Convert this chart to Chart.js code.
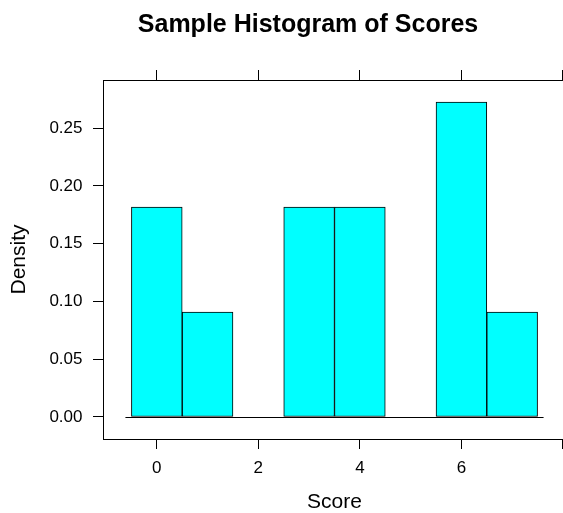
<!DOCTYPE html>
<html>
<head>
<meta charset="utf-8">
<script src="https://cdn.jsdelivr.net/npm/chart.js@4"></script>
<style>
  html, body { margin: 0; padding: 0; background: #fff; overflow: hidden; }
  #clip { width: 563px; height: 513px; overflow: hidden; position: relative; }
  #wrap { width: 566px; height: 513px; position: absolute; left: 0; top: 0; }
</style>
</head>
<body>
<div id="clip"><div id="wrap"><canvas id="c"></canvas></div></div>
<script>
// ---- data ----
const titleText = "Sample Histogram of Scores";
const xLabel = "Score";
const yLabel = "Density";
const scoreBins = [0, 1, 2, 3, 4, 5, 6, 7];          // bin centres (width 1)
const densities = [0.1818, 0.0909, 0, 0.1818, 0.1818, 0, 0.2727, 0.0909];
const xTicks = [0, 2, 4, 6, 8];
const xTickLabels = ["0", "2", "4", "6", ""];
const yTicks = [0, 0.05, 0.10, 0.15, 0.20, 0.25];
const yTickLabels = ["0.00", "0.05", "0.10", "0.15", "0.20", "0.25"];

// ranges extended 7% like lattice
const binWidth = 1;
const xLo = scoreBins[0] - binWidth / 2, xHi = scoreBins[scoreBins.length - 1] + binWidth / 2;
const xExt = (xHi - xLo) * 0.07;
const yLo = 0, yHi = Math.max(...densities);
const yExt = (yHi - yLo) * 0.07;

const FONT = '"Liberation Sans", Arial, Helvetica, sans-serif';

const titlePlugin = {
  id: 'mainTitle',
  afterDraw(chart) {
    const ctx = chart.ctx;
    ctx.save();
    ctx.fillStyle = '#000';
    ctx.font = 'bold 25px ' + FONT;
    ctx.textAlign = 'center';
    ctx.textBaseline = 'alphabetic';
    ctx.fillText(titleText, 308, 32);
    ctx.restore();
  }
};

const baselinePlugin = {
  id: 'baseline',
  beforeDatasetsDraw(chart) {
    const xs = chart.scales.x, ys = chart.scales.y;
    const ctx = chart.ctx;
    const y0 = Math.round(ys.getPixelForValue(0)) + 0.5;
    ctx.save();
    ctx.strokeStyle = '#000';
    ctx.lineWidth = 1;
    ctx.beginPath();
    ctx.moveTo(xs.getPixelForValue(xLo) - 6, y0);
    ctx.lineTo(xs.getPixelForValue(xHi) + 6, y0);
    ctx.stroke();
    ctx.restore();
  }
};

const setTicks = (arr) => (scale) => { scale.ticks = arr.map(v => ({ value: v })); };

new Chart(document.getElementById('c'), {
  type: 'bar',
  data: {
    datasets: [{
      data: scoreBins.map((x, i) => ({ x: x, y: densities[i] })),
      backgroundColor: '#00FFFF',
      borderColor: '#000',
      borderWidth: 1,
      borderSkipped: false,
      barPercentage: 1,
      categoryPercentage: 1,
      xAxisID: 'x',
      yAxisID: 'y'
    }]
  },
  options: {
    responsive: true,
    maintainAspectRatio: false,
    animation: false,
    devicePixelRatio: 1,
    layout: { padding: { top: 70, right: 0, left: 0, bottom: 0 } },
    plugins: { legend: { display: false }, tooltip: { enabled: false }, title: { display: false } },
    scales: {
      x: {
        type: 'linear',
        position: 'bottom',
        min: xLo - xExt,
        max: xHi + xExt,
        offset: false,
        afterBuildTicks: setTicks(xTicks),
        afterFit: (s) => { s.height = 74; s.paddingRight = 0; s.paddingLeft = 0; },
        grid: { drawOnChartArea: false, drawTicks: true, tickLength: 10, color: '#000', lineWidth: 1, offset: false },
        border: { display: true, color: '#000', width: 1 },
        ticks: { color: '#000', font: { family: FONT, size: 17 }, padding: 9, maxRotation: 0, autoSkip: false,
                 callback: (v) => xTickLabels[xTicks.indexOf(v)] },
        title: { display: true, text: xLabel, color: '#000', font: { family: FONT, size: 21 }, padding: { top: 0, bottom: -2 } }
      },
      x2: {
        type: 'linear',
        position: 'top',
        min: xLo - xExt,
        max: xHi + xExt,
        offset: false,
        afterBuildTicks: setTicks(xTicks),
        afterFit: (s) => { s.height = 10; s.paddingRight = 0; s.paddingLeft = 0; },
        grid: { drawOnChartArea: false, drawTicks: true, tickLength: 10, color: '#000', lineWidth: 1, offset: false },
        border: { display: true, color: '#000', width: 1 },
        ticks: { display: false }
      },
      y: {
        type: 'linear',
        position: 'left',
        min: yLo - yExt,
        max: yHi + yExt,
        afterBuildTicks: setTicks(yTicks),
        afterFit: (s) => { s.width = 103; },
        grid: { drawOnChartArea: false, drawTicks: true, tickLength: 10, color: '#000', lineWidth: 1 },
        border: { display: true, color: '#000', width: 1 },
        ticks: { color: '#000', font: { family: FONT, size: 17 }, padding: 10.5, autoSkip: false,
                 callback: (v) => yTickLabels[yTicks.indexOf(v)] },
        title: { display: true, text: yLabel, color: '#000', font: { family: FONT, size: 21 }, padding: { top: 7, bottom: 7 } }
      }
    }
  },
  plugins: [titlePlugin, baselinePlugin]
});
</script>
</body>
</html>
